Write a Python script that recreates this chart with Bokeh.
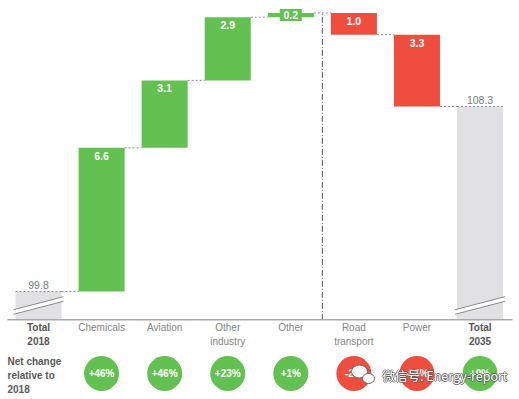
import numpy as np
from bokeh.plotting import figure
from bokeh.models import Range1d
from bokeh.core.properties import value
from bokeh.embed import file_html
from bokeh.resources import INLINE

# ---------------- data ----------------
categories = ["Total\n2018", "Chemicals", "Aviation", "Other\nindustry", "Other",
              "Road\ntransport", "Power", "Total\n2035"]
total_2018 = 99.8
total_2035 = 108.3
changes = [6.6, 3.1, 2.9, 0.2, -1.0, -3.3]
change_labels = ["6.6", "3.1", "2.9", "0.2", "1.0", "3.3"]
net_change = ["+46%", "+46%", "+23%", "+1%", "-2%", "-66%", "+9%"]
total_labels = ["99.8", "108.3"]

# ---------------- layout / style ----------------
W, H = 519, 399
X0, X1 = -0.6025, 7.626
Y0, Y1 = 94.84, 113.17
Y_BASE = 98.5          # broken-axis floor
BAR_W = 0.73
PXX = W / (X1 - X0)    # px per x unit
PXY = H / (Y1 - Y0)    # px per y unit
OFF = 0

GREEN = "#62C150"
RED = "#EF4E3E"
GREY_BAR = "#E1E1E3"
FONT = "Liberation Sans"

def page_x(px):
    return X0 + (px - OFF) / PXX

def page_y(py):
    return Y1 - (py - OFF) / PXY

idx = np.arange(len(categories))
levels = total_2018 + np.cumsum(changes)
starts = np.concatenate([[total_2018], levels[:-1]])
tops = np.maximum(starts, levels)
bottoms = np.minimum(starts, levels)
chg_x = idx[1:-1]
chg_col = [GREEN if c > 0 else RED for c in changes]

p = figure(width=W, height=H, x_range=Range1d(X0, X1), y_range=Range1d(Y0, Y1),
           output_backend="svg", toolbar_location=None, min_border=0,
           x_axis_type=None, y_axis_type=None)
p.outline_line_color = None
p.xgrid.visible = False
p.ygrid.visible = False
p.background_fill_color = "white"

# total bars (broken axis)
tot_x = np.array([idx[0], idx[-1]])
tot_v = np.array([total_2018, total_2035])
p.vbar(x=tot_x, top=tot_v, bottom=Y_BASE, width=BAR_W, fill_color=GREY_BAR, line_color=None)

# axis break marks
yc = page_y(305)
hx = 25 / PXX
hy = 6.5 / PXY
g = 2.3 / PXY
for c in tot_x:
    p.patch([c - hx, c + hx, c + hx, c - hx],
            [yc - hy - g, yc + hy - g, yc + hy + g, yc - hy + g],
            fill_color="white", line_color=None)
    p.segment(x0=[c - hx, c - hx], y0=[yc - hy - g, yc - hy + g],
              x1=[c + hx, c + hx], y1=[yc + hy - g, yc + hy + g],
              line_color="#8a8a8a", line_width=1)

# change bars
p.vbar(x=chg_x, top=tops, bottom=bottoms, width=BAR_W, fill_color=chg_col, line_color=None)

# connectors (between bars) and dotted tops of the total bars
conn_levels = np.concatenate([[total_2018], levels])
p.segment(x0=idx[:-1] + BAR_W / 2, x1=idx[1:] - BAR_W / 2,
          y0=conn_levels, y1=conn_levels,
          line_color="#8c8c8c", line_width=1, line_dash="2 2")
p.segment(x0=tot_x - BAR_W / 2, x1=tot_x + BAR_W / 2, y0=tot_v, y1=tot_v,
          line_color="#8c8c8c", line_width=1, line_dash="2 2")

# divider
p.segment(x0=[4.5], x1=[4.5], y0=[Y_BASE], y1=[levels.max()],
          line_color="#555555", line_width=1, line_dash="6 2 1 2")

# baseline
p.segment(x0=[page_x(7)], x1=[page_x(512)], y0=[Y_BASE], y1=[Y_BASE],
          line_color="#a8a8a8", line_width=1.5)

# labels in bars
heights_px = (tops - bottoms) * PXY
big = heights_px > 15
p.text(x=chg_x[big], y=tops[big], text=[change_labels[i] for i in range(len(changes)) if big[i]],
       y_offset=8, text_align="center", text_baseline="middle",
       text_color="white", text_font=value(FONT), text_font_size="10.5px", text_font_style="bold")
small = ~big
sx = chg_x[small]
sy = (tops[small] + bottoms[small]) / 2
sc = [chg_col[i] for i in range(len(changes)) if small[i]]
p.rect(x=sx, y=sy, width=22, height=12, width_units="screen", height_units="screen",
       fill_color=sc, line_color=None)
p.text(x=sx, y=sy, text=[change_labels[i] for i in range(len(changes)) if small[i]],
       text_align="center", text_baseline="middle",
       text_color="white", text_font=value(FONT), text_font_size="10.5px", text_font_style="bold")

# total labels
p.text(x=tot_x, y=tot_v, text=total_labels, y_offset=-3, text_align="center",
       text_baseline="bottom", text_color="#7a7a7a", text_font=value(FONT), text_font_size="10.5px")

# category labels
bold_cat = [0, len(categories) - 1]
norm_cat = [i for i in idx if i not in bold_cat]
p.text(x=idx[norm_cat], y=Y_BASE, text=[categories[i] for i in norm_cat], y_offset=2,
       text_align="center", text_baseline="top", text_line_height=1.3,
       text_color="#858585", text_font=value(FONT), text_font_size="10px")
p.text(x=idx[bold_cat], y=Y_BASE, text=[categories[i] for i in bold_cat], y_offset=2,
       text_align="center", text_baseline="top", text_line_height=1.3,
       text_color="#555555", text_font=value(FONT), text_font_size="10px", text_font_style="bold")

# net change row
cy = page_y(373)
circ_col = [GREEN if s.startswith("+") else RED for s in net_change]
p.scatter(x=idx[1:], y=cy, size=35, fill_color=circ_col, line_color=None)
p.text(x=idx[1:], y=cy, text=net_change, text_align="center", text_baseline="middle",
       text_color="white", text_font=value(FONT), text_font_size="10px", text_font_style="bold")
p.text(x=[page_x(7)], y=[cy], text=["Net change\nrelative to\n2018"], y_offset=2,
       text_align="left", text_baseline="middle", text_line_height=1.23,
       text_color="#5a5a5a", text_font=value(FONT), text_font_size="10px", text_font_style="bold")

# watermark
wx, wy = page_x(382), page_y(375)
p.ellipse(x=[page_x(359), page_x(368)], y=[page_y(371), page_y(378)], width=[16, 12], height=[13, 10],
          width_units="screen", height_units="screen", fill_color="white", line_color="#666666", line_width=1)
for dx, dy in [(-1, 0), (1, 0), (0, -1), (0, 1)]:
    p.text(x=[wx], y=[wy], text=["微信号: Energy-report"], x_offset=dx, y_offset=dy,
           text_align="left", text_baseline="middle", text_color="#555555", text_alpha=0.8,
           text_font=value("Noto Sans CJK SC"), text_font_size="12.5px")
p.text(x=[wx], y=[wy], text=["微信号: Energy-report"], text_align="left", text_baseline="middle",
       text_color="white", text_font=value("Noto Sans CJK SC"), text_font_size="12.5px")

open("out.html", "w").write(file_html(p, INLINE))
